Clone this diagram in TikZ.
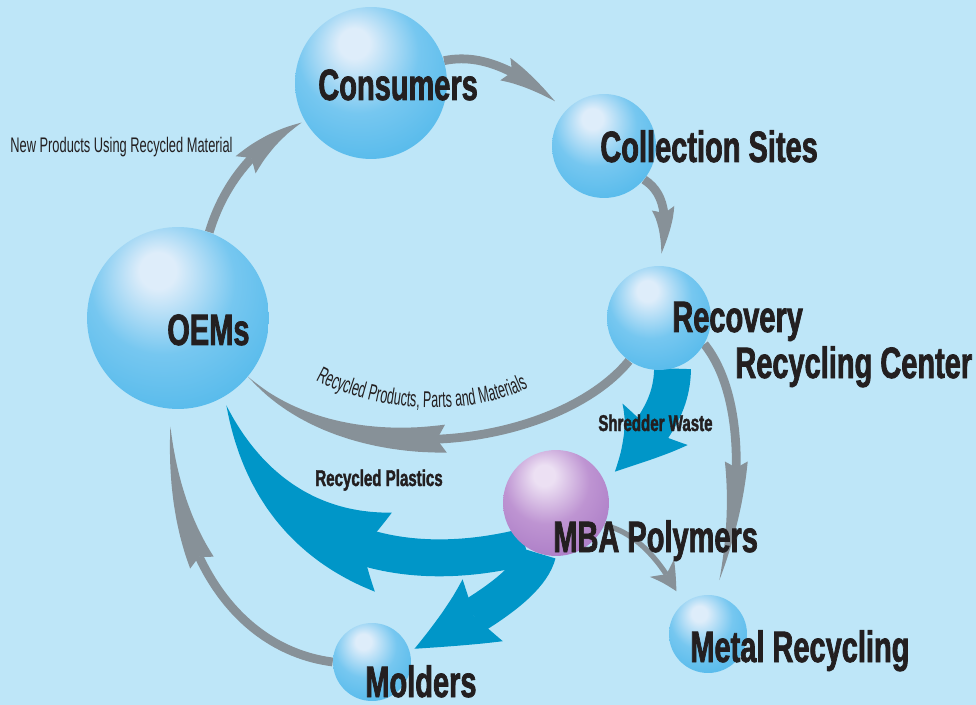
\documentclass[tikz,border=0pt]{standalone}
\usepackage{fontspec}
\newfontfamily\headfont{Liberation Sans Bold}[FakeStretch=0.66, FakeBold=1.6]
\newfontfamily\thinfont{Liberation Sans}[FakeStretch=0.61]
\newfontfamily\arcfont{Liberation Sans}[FakeStretch=0.55]
\usetikzlibrary{arrows.meta, bending, decorations.text}

\definecolor{bg}{RGB}{190,230,248}
\definecolor{flowblue}{RGB}{0,150,200}
\definecolor{linkgrey}{RGB}{135,145,152}
\definecolor{ink}{RGB}{35,31,32}
\definecolor{blhi}{RGB}{222,237,250}
\definecolor{blmid}{RGB}{118,199,240}
\definecolor{blbody}{RGB}{78,183,234}
\definecolor{bledge}{RGB}{48,163,224}
\definecolor{puhi}{RGB}{236,224,243}
\definecolor{pumid}{RGB}{190,148,210}
\definecolor{pubody}{RGB}{168,120,196}
\definecolor{puedge}{RGB}{148,98,178}

\pgfdeclareradialshading{bluesphere}{\pgfpoint{-6bp}{14bp}}{color(0bp)=(blhi); color(5bp)=(blhi); color(20bp)=(blmid); color(38bp)=(blbody); color(54bp)=(bledge); color(70bp)=(bledge)}
\pgfdeclareradialshading{purplesphere}{\pgfpoint{-6bp}{14bp}}{color(0bp)=(puhi); color(5bp)=(puhi); color(20bp)=(pumid); color(38bp)=(pubody); color(54bp)=(puedge); color(70bp)=(puedge)}

\pgfdeclarelayer{back}
\pgfdeclarelayer{links}
\pgfsetlayers{back,links,main}

\tikzset{
  ball/.style = {circle, inner sep=0pt, minimum size=#1*0.04cm, shading=bluesphere},
  tag/.style = {anchor=base west, inner sep=0pt, text=ink, font=\headfont\fontsize{25}{28}\selectfont},
  small/.style = {anchor=base west, inner sep=0pt, text=ink, font=\headfont\fontsize{13}{15}\selectfont},
  note/.style = {anchor=base west, inner sep=0pt, text=ink, font=\thinfont\fontsize{12}{14}\selectfont},
  link/.style = {draw=linkgrey, line width=5pt},
  flow/.style = {draw=flowblue, line width=21pt},
}

\begin{document}
\begin{tikzpicture}[x=0.02cm, y=-0.02cm]
  \useasboundingbox (0,0) rectangle (976,705);
  \begin{pgfonlayer}{back}
    \fill[bg] (0,0) rectangle (976,705);
  \end{pgfonlayer}

  % spheres
  \node[ball=76] (cons) at (371,83) {};
  \node[ball=52] (coll) at (604,146) {};
  \node[ball=91] (oem) at (178,318) {};
  \node[ball=52] (rec) at (659,318) {};
  \node[ball=53, shading=purplesphere] (mba) at (556,503) {};
  \node[ball=39] (mol) at (372,662) {};
  \node[ball=39] (met) at (708,634) {};

  \begin{pgfonlayer}{links}
  % grey loop
  \draw[link, shorten >=8pt, -{Stealth[length=37pt, width=14pt, inset=5pt, line width=0pt, bend]}]
    (cons.17) .. controls (485,52) and (525,75) .. (coll.137);
  \draw[link, shorten >=7pt, -{Stealth[length=31pt, width=13pt, inset=4pt, line width=0pt, bend]}]
    (coll.-40) .. controls (668,195) and (668,225) .. (rec.north);
  \draw[link, shorten >=2pt, -{Stealth[length=40pt, width=15pt, inset=5pt, line width=0pt, bend]}]
    (oem.70) .. controls (225,180) and (260,140) .. (cons.210);
  \draw[link, -{Stealth[length=120pt, width=16pt, inset=5pt, line width=0pt, bend]}]
    (rec.235) .. controls (560,445) and (350,478) .. (oem.-40);
  \draw[link, shorten >=9pt, -{Stealth[length=71pt, width=13pt, inset=4pt, line width=0pt, bend]}]
    (rec.-30) .. controls (745,395) and (745,500) .. (met.80);
  \draw[link, line width=3pt, shorten >=8pt, -{Stealth[length=17pt, width=17pt, inset=5pt, line width=0pt, bend]}]
    (mba.-25) .. controls (630,530) and (660,555) .. (met.130);
  \draw[link, shorten >=10pt, -{Stealth[length=94pt, width=15pt, inset=5pt, line width=0pt, bend]}]
    (mol.180) .. controls (240,650) and (170,560) .. (oem.-95);

  % blue flows
  \draw[flow, shorten >=5pt, -{Stealth[length=158pt, width=46pt, inset=16pt, line width=0pt, bend]}]
    (mba.235) .. controls (400,578) and (270,548) .. (oem.-60);
  \draw[flow, shorten >=3pt, -{Stealth[length=48pt, width=42pt, inset=7pt, line width=0pt, bend]}]
    (mba.250) .. controls (530,585) and (475,618) .. (mol.16);
  \draw[flow, shorten >=8pt, -{Stealth[length=45pt, width=44pt, inset=7pt, line width=0pt, bend]}]
    (rec.-75) .. controls (672,400) and (660,430) .. (mba.24);
  \end{pgfonlayer}

  % labels
  \node[tag] (consT) at (318,100) {Consumers};
  \node[tag] (collT) at (600,162) {Collection Sites};
  \node[tag] (oemT) at (167,345) {OEMs};
  \node[tag] (recT) at (672,332) {Recovery};
  \node[tag] (recT2) at (735,378) {Recycling Center};
  \node[tag] (mbaT) at (553,552) {MBA Polymers};
  \node[tag] (molT) at (365,697) {Molders};
  \node[tag] (metT) at (690,662) {Metal Recycling};
  \node[small] (shred) at (598,431) {Shredder Waste};
  \node[small] (plast) at (315,486) {Recycled Plastics};
  \node[note] (newp) at (10,153) {New Products Using Recycled Material};
  \path[decorate, decoration={text along path, text align=center,
      text={|\arcfont\fontsize{13}{15}\selectfont\color{ink}|Recycled Products, Parts and Materials}}]
    (312,378) .. controls (375,414) and (470,418) .. (532,386);
\end{tikzpicture}
\end{document}
